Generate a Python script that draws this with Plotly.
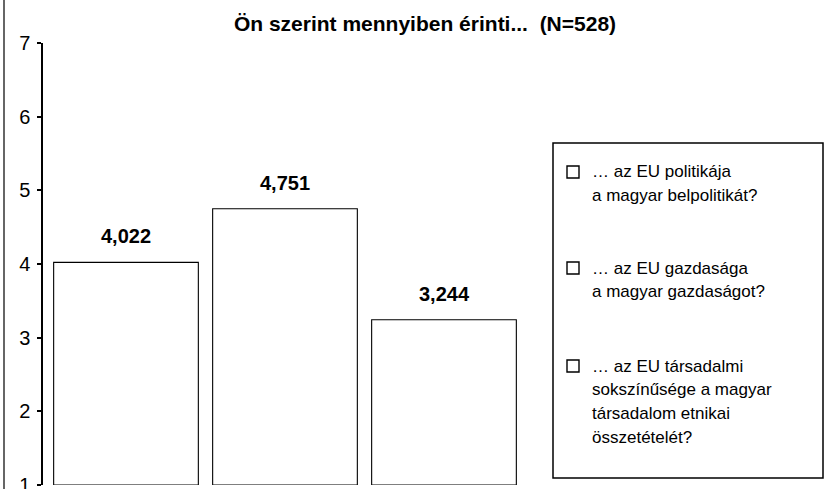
import plotly.graph_objects as go

title_text = "Ön szerint mennyiben érinti...  (N=528)"
categories = ["politika", "gazdaság", "társadalom"]
values = [4.022, 4.751, 3.244]
value_labels = ["4,022", "4,751", "3,244"]
legend_labels = [
    ["… az EU politikája", "a magyar belpolitikát?"],
    ["… az EU gazdasága", "a magyar gazdaságot?"],
    ["… az EU társadalmi", "sokszínűsége a magyar", "társadalom etnikai", "összetételét?"],
]
y_ticks = [1, 2, 3, 4, 5, 6, 7]

W, H = 837, 489
ML, MR, MT, MB = 43, 297, 43, 4
PW = W - ML - MR
PH = H - MT - MB

def px(x):
    return (x - ML) / PW

def py(y):
    return (H - MB - y) / PH

FONT = "Liberation Sans, Arial, Helvetica, sans-serif"
BASE = 1

fig = go.Figure()
fig.add_trace(go.Bar(
    x=list(range(len(categories))),
    y=[v - BASE for v in values],
    base=BASE,
    width=0.91,
    marker=dict(color="white", line=dict(color="black", width=1.1)),
    showlegend=False,
    hoverinfo="skip",
))

for i, (v, lab) in enumerate(zip(values, value_labels)):
    fig.add_annotation(x=i, y=v, text=f"<b>{lab}</b>", showarrow=False,
                       yanchor="bottom", yshift=13,
                       font=dict(size=20, color="black", family=FONT))

# legend box
fig.add_shape(type="rect", xref="paper", yref="paper",
              x0=px(553), x1=px(823), y0=py(478), y1=py(143),
              line=dict(color="black", width=1.5), fillcolor="white", layer="below")
entry_tops = [172, 268, 366]
LINE = 23.8
for top, lines in zip(entry_tops, legend_labels):
    fig.add_shape(type="rect", xref="paper", yref="paper",
                  x0=px(567), x1=px(579), y0=py(top + 6), y1=py(top - 6),
                  line=dict(color="black", width=1.4), fillcolor="white")
    for k, line in enumerate(lines):
        fig.add_annotation(xref="paper", yref="paper", x=px(590), y=py(top + k * LINE),
                           xanchor="left", yanchor="middle", align="left",
                           text=line, showarrow=False,
                           font=dict(size=17, color="black", family=FONT))

# left frame line
fig.add_shape(type="line", xref="paper", yref="paper",
              x0=px(4), x1=px(4), y0=py(489), y1=py(0),
              line=dict(color="#333", width=1.5))

fig.update_layout(
    width=W, height=H,
    margin=dict(l=ML, r=MR, t=MT, b=MB, autoexpand=False),
    paper_bgcolor="white", plot_bgcolor="white",
    title=dict(text=f"<b>{title_text}</b>", x=425 / W, xref="container", xanchor="center",
               y=1 - 24 / H, yanchor="middle",
               font=dict(size=21, color="black", family=FONT)),
    xaxis=dict(range=[-0.522, (W - MR - 126) / 159], showticklabels=False,
               showgrid=False, zeroline=False, showline=False, ticks="",
               automargin=False),
    yaxis=dict(range=[0.9999, 7.0001], tickvals=y_ticks, showgrid=False, zeroline=False,
               showline=True, linecolor="black", linewidth=1.5,
               ticks="outside", ticklen=4, tickwidth=1.5, tickcolor="black",
               ticklabelstandoff=3, ticklabeloverflow="allow", automargin=False,
               tickfont=dict(size=20, color="black", family=FONT)),
    showlegend=False,
)

fig.write_html("out.html", config={"displayModeBar": False},
               post_script="document.body.style.margin='0px';")
